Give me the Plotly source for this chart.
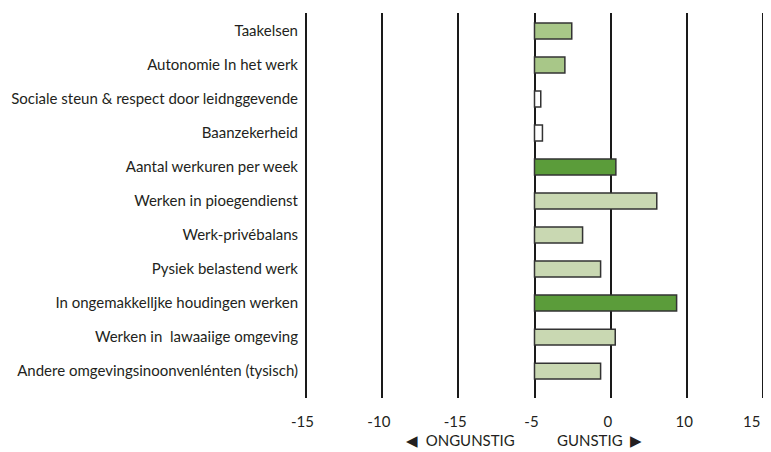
import plotly.graph_objects as go

categories = [
    "Taakelsen",
    "Autonomie In het werk",
    "Sociale steun & respect door leidnggevende",
    "Baanzekerheid",
    "Aantal werkuren per week",
    "Werken in pioegendienst",
    "Werk-privébalans",
    "Pysiek belastend werk",
    "In ongemakkelljke houdingen werken",
    "Werken in  lawaaiige omgeving",
    "Andere omgevingsinoonvenlénten (tysisch)",
]
values = [2.44, 1.99, 0.41, 0.52, 5.33, 8.01, 3.15, 4.33, 9.31, 5.29, 4.33]
bar_colors = ["#a8c788", "#a8c788", "#ffffff", "#ffffff", "#5b9c3a",
              "#c9d8b2", "#c9d8b2", "#c9d8b2", "#5b9c3a", "#c9d8b2", "#c9d8b2"]
tick_values = [-15, -10, -5, 0, 5, 10, 15]
tick_labels = ["-15", "-10", "-15", "-5", "0", "10", "15\u2007\u2007"]

FONT = "Lato"
TXT = "#231f20"

# the page body adds an 8px offset; figure margins compensate
W, H = 771, 444
ML, MR, MT, MB = 296, 13.5, 5, 54

fig = go.Figure(go.Bar(
    y=list(range(len(categories))),
    x=values,
    orientation="h",
    width=0.47,
    marker=dict(color=bar_colors, line=dict(color="#333333", width=1.5)),
))

pw = W - ML - MR
ph = H - MT - MB

fig.update_layout(
    width=W, height=H,
    margin=dict(l=ML, r=MR, t=MT, b=MB, pad=0),
    paper_bgcolor="white", plot_bgcolor="white",
    showlegend=False,
    font=dict(family=FONT, color=TXT, size=15),
    xaxis=dict(
        range=[-15.1, 15.1], tickvals=tick_values, ticktext=tick_labels,
        showgrid=True, gridcolor="#1a1a1a", gridwidth=1.5,
        zeroline=False, showline=False, ticks="", automargin=False,
        ticklabeloverflow="allow", ticklabelshift=-3,
        ticklabelstandoff=13, tickfont=dict(size=15, family=FONT, color=TXT),
    ),
    yaxis=dict(
        range=[10.79, -0.53], tickvals=list(range(len(categories))), ticktext=categories,
        showgrid=False, zeroline=False, showline=False, ticks="", automargin=False,
        ticklabelstandoff=5, tickfont=dict(size=15, family=FONT, color=TXT),
    ),
    annotations=[
        dict(text="◀  ONGUNSTIG", x=(461 - 8 - ML) / pw, y=(H - MB - (440 - 8)) / ph,
             xref="paper", yref="paper", xanchor="center", yanchor="middle",
             showarrow=False, font=dict(size=15, family=FONT, color=TXT)),
        dict(text="GUNSTIG  ▶", x=(600 - 8 - ML) / pw, y=(H - MB - (440 - 8)) / ph,
             xref="paper", yref="paper", xanchor="center", yanchor="middle",
             showarrow=False, font=dict(size=15, family=FONT, color=TXT)),
    ],
)

fig.write_html("out.html")
